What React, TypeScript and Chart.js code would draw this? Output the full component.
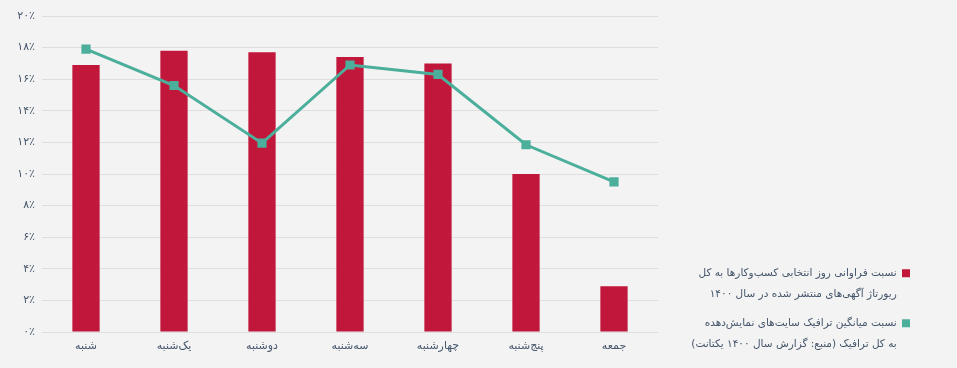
import React, { useEffect, useRef } from "react";
import { Chart, registerables } from "chart.js";

Chart.register(...registerables);

const days = ["شنبه", "یک‌شنبه", "دوشنبه", "سه‌شنبه", "چهارشنبه", "پنج‌شنبه", "جمعه"];
const adShare = [16.9, 17.8, 17.7, 17.4, 17.0, 10.0, 2.9];
const trafficShare = [17.9, 15.6, 11.95, 16.9, 16.3, 11.85, 9.5];
const legendBar = ["نسبت فراوانی روز انتخابی کسب‌وکارها به کل", "ریورتاژ آگهی‌های منتشر شده در سال ۱۴۰۰"];
const legendLine = ["نسبت میانگین ترافیک سایت‌های نمایش‌دهده", "به کل ترافیک (منبع: گزارش سال ۱۴۰۰ یکتانت)"];

const BAR_COLOR = "#c0173b";
const LINE_COLOR = "#4caf9b";
const TEXT_COLOR = "#45566b";
const GRID_COLOR = "#dedede";
const FONT = "'DejaVu Sans', sans-serif";

const faDigits = "۰۱۲۳۴۵۶۷۸۹";
const toFa = (n: number) => String(n).replace(/\d/g, (d) => faDigits[Number(d)]);

export default function App() {
  const ref = useRef<HTMLCanvasElement>(null);
  useEffect(() => {
    document.body.style.margin = "0";
    const canvas = ref.current!;
    const chart = new Chart(canvas, {
      type: "bar",
      data: {
        labels: days,
        datasets: [
          {
            type: "line",
            label: "traffic",
            data: trafficShare,
            borderColor: LINE_COLOR,
            backgroundColor: LINE_COLOR,
            borderWidth: 3,
            pointStyle: "rect",
            pointRadius: 6.5,
            pointBackgroundColor: LINE_COLOR,
            pointBorderWidth: 0,
            tension: 0,
            order: 0,
          } as any,
          {
            type: "bar",
            label: "ads",
            data: adShare,
            backgroundColor: BAR_COLOR,
            barPercentage: 0.31,
            categoryPercentage: 1,
            order: 1,
          },
        ],
      },
      options: {
        responsive: false,
        animation: false,
        layout: { padding: { top: 16, right: 39, bottom: 0, left: 0 } },
        scales: {
          x: {
            grid: { display: false, drawTicks: false },
            border: { display: false },
            ticks: { color: TEXT_COLOR, font: { family: FONT, size: 11 }, padding: 8 },
            afterFit: (s: any) => {
              s.height = 36;
            },
          },
          y: {
            min: 0,
            max: 20,
            grid: { color: GRID_COLOR, drawTicks: false, lineWidth: 1 },
            border: { display: false },
            ticks: {
              stepSize: 2,
              color: TEXT_COLOR,
              font: { family: FONT, size: 11 },
              padding: 7,
              callback: (v: any) => toFa(v) + "٪",
            },
            afterFit: (s: any) => {
              s.width = 42;
            },
          },
        },
        plugins: {
          tooltip: { enabled: false },
          legend: {
            position: "right",
            align: "end",
            rtl: true,
            textDirection: "rtl",
            labels: {
              boxWidth: 8,
              boxHeight: 8,
              padding: 8,
              color: TEXT_COLOR,
              textAlign: "left",
              font: { family: FONT, size: 10.5, lineHeight: 2 },
              generateLabels: () => [
                { text: legendBar as any, fillStyle: BAR_COLOR, strokeStyle: BAR_COLOR, lineWidth: 0, datasetIndex: 1, fontColor: TEXT_COLOR },
                { text: legendLine as any, fillStyle: LINE_COLOR, strokeStyle: LINE_COLOR, lineWidth: 0, datasetIndex: 0, fontColor: TEXT_COLOR },
              ],
            },
          },
        },
      },
    });
    const lg: any = (chart as any).legend;
    if (lg) {
      const origFit = lg.fit;
      lg.fit = function () {
        origFit.call(this);
        this.width = 957 - 39 - 658;
      };
      chart.update();
    }
    return () => chart.destroy();
  }, []);
  return (
    <div style={{ width: 957, height: 368, background: "#f3f3f3" }}>
      <canvas ref={ref} width={957} height={368} style={{ display: "block", width: 957, height: 368 }} />
    </div>
  );
}
